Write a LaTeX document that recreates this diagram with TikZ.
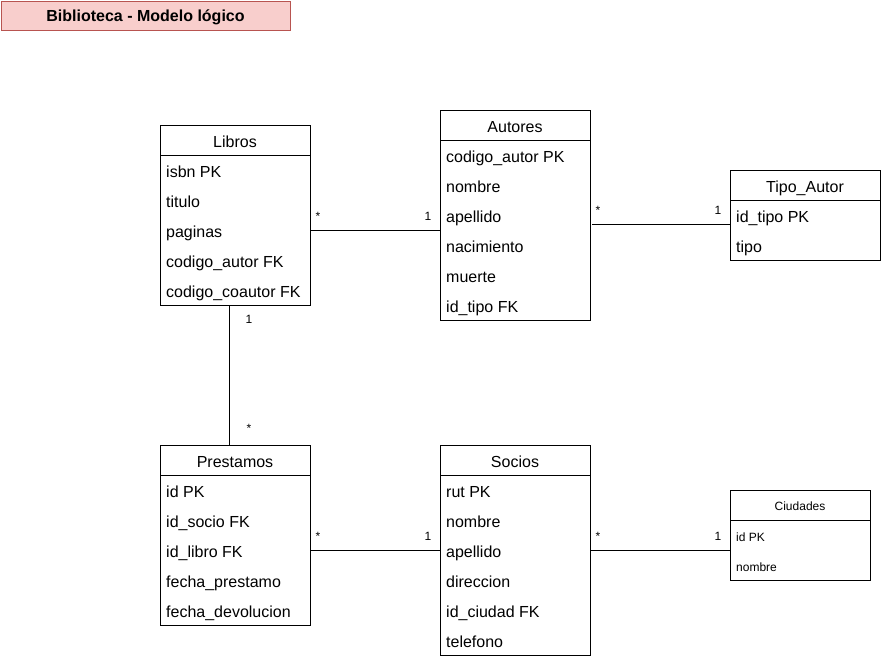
\documentclass[tikz,border=0pt]{standalone}
\usepackage{fontspec}
\setmainfont{Liberation Sans}
\usetikzlibrary{positioning,calc}
\definecolor{tfill}{HTML}{F8CECC}
\definecolor{tdraw}{HTML}{B85450}

\begin{document}
\begin{tikzpicture}[x=1pt, y=-1pt,
  head/.style={draw, fill=white, line width=1pt, outer sep=0pt, minimum width=150pt, minimum height=30pt, inner sep=0pt, text height=15pt, text depth=0pt, font=\fontsize{16}{19}\selectfont},
  body/.style={draw, fill=white, line width=1pt, outer sep=0pt, minimum width=150pt, inner sep=0pt},
  row/.style={anchor=west, inner sep=0pt, text height=12pt, text depth=1pt, font=\fontsize{16}{19}\selectfont},
  smallrow/.style={anchor=west, inner sep=0pt, text height=9pt, text depth=0.5pt, font=\fontsize{12}{14}\selectfont},
  rel/.style={draw, line width=1pt},
  card/.style={inner sep=0pt, text height=8pt, text depth=0pt, font=\fontsize{12}{13}\selectfont},
]
  \useasboundingbox (0,0) rectangle (881,657);

  % title
  \node[draw=tdraw, fill=tfill, line width=1pt, minimum width=289pt, minimum height=29pt, inner sep=0pt,
        text height=12pt, text depth=0pt, font=\fontsize{16}{19}\selectfont\bfseries] (title) at (145.5,15.5) {Biblioteca - Modelo lógico};

  % Libros
  \node[head] (libros) at (235,140) {Libros};
  \node[body, minimum height=150pt, below=0pt of libros] (librosb) {};
  \foreach \t [count=\i] in {isbn PK, titulo, paginas, codigo\_autor FK, codigo\_coautor FK}
    \node[row] (libros-r\i) at ($(librosb.north west)+(6,{30*\i-13})$) {\t};

  % Autores
  \node[head] (autores) at (515,125) {Autores};
  \node[body, minimum height=180pt, below=0pt of autores] (autoresb) {};
  \foreach \t [count=\i] in {codigo\_autor PK, nombre, apellido, nacimiento, muerte, id\_tipo FK}
    \node[row] (autores-r\i) at ($(autoresb.north west)+(6,{30*\i-13})$) {\t};

  % Tipo_Autor
  \node[head] (tipo) at (805,185) {Tipo\_Autor};
  \node[body, minimum height=60pt, below=0pt of tipo] (tipob) {};
  \foreach \t [count=\i] in {id\_tipo PK, tipo}
    \node[row] (tipo-r\i) at ($(tipob.north west)+(6,{30*\i-13})$) {\t};

  % Prestamos
  \node[head] (prestamos) at (235,460) {Prestamos};
  \node[body, minimum height=150pt, below=0pt of prestamos] (prestamosb) {};
  \foreach \t [count=\i] in {id PK, id\_socio FK, id\_libro FK, fecha\_prestamo, fecha\_devolucion}
    \node[row] (prestamos-r\i) at ($(prestamosb.north west)+(6,{30*\i-13})$) {\t};

  % Socios
  \node[head] (socios) at (515,460) {Socios};
  \node[body, minimum height=180pt, below=0pt of socios] (sociosb) {};
  \foreach \t [count=\i] in {rut PK, nombre, apellido, direccion, id\_ciudad FK, telefono}
    \node[row] (socios-r\i) at ($(sociosb.north west)+(6,{30*\i-13})$) {\t};

  % Ciudades
  \node[head, minimum width=140pt, text height=11pt, text depth=0pt, font=\fontsize{12}{14}\selectfont] (ciudades) at (800,505) {Ciudades};
  \node[body, minimum width=140pt, minimum height=60pt, below=0pt of ciudades] (ciudadesb) {};
  \foreach \t [count=\i] in {id PK, nombre}
    \node[smallrow] (ciudades-r\i) at ($(ciudadesb.north west)+(6,{30*\i-13})$) {\t};

  % relations
  \draw[rel] (librosb.east) --
    node[card, pos=0, xshift=8pt, yshift=14pt] {*}
    node[card, pos=1, xshift=-12pt, yshift=14pt] {1} (autoresb.west);
  \draw[rel] ([xshift=2pt, yshift=6pt]autoresb.east) --
    node[card, pos=0, xshift=6pt, yshift=14pt] {*}
    node[card, pos=1, xshift=-12pt, yshift=14pt] {1} ([yshift=6pt]tipob.west);
  \draw[rel] ([xshift=-6pt]librosb.south) --
    node[card, pos=0, xshift=20pt, yshift=-14pt] {1}
    node[card, pos=1, xshift=20pt, yshift=17pt] {*} ([xshift=-6pt]prestamos.north);
  \draw[rel] (prestamosb.east) --
    node[card, pos=0, xshift=8pt, yshift=14pt] {*}
    node[card, pos=1, xshift=-12pt, yshift=14pt] {1} (prestamosb.east -| sociosb.west);
  \draw[rel] (sociosb.east |- ciudadesb.west) --
    node[card, pos=0, xshift=8pt, yshift=14pt] {*}
    node[card, pos=1, xshift=-12pt, yshift=14pt] {1} (ciudadesb.west);
\end{tikzpicture}
\end{document}
